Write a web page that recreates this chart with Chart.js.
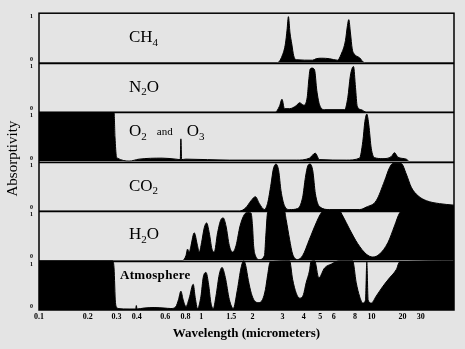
<!DOCTYPE html>
<html>
<head>
<meta charset="utf-8">
<script src="https://cdn.jsdelivr.net/npm/chart.js@4.4.1/dist/chart.umd.min.js"></script>
<style>
  html, body { margin: 0; padding: 0; background: #e4e4e4; }
  canvas { display: block; }
</style>
</head>
<body>
<canvas id="chart" width="465" height="349"></canvas>
<script>
const gases = ['CH₄', 'N₂O', 'O₂ and O₃', 'CO₂', 'H₂O', 'Atmosphere'];
const tickLabels = [0.1, 0.2, 0.3, 0.4, 0.6, 0.8, 1, 1.5, 2, 3, 4, 5, 6, 8, 10, 20, 30];

// wavelength in micrometers, absorptivity 0..1
const ch4Wave = [0.1, 2.8, 3.01, 3.12, 3.19, 3.25, 3.32, 3.4, 3.49, 3.61, 4.5, 4.73, 5.1, 5.66, 6.31, 6.63, 7.03, 7.22, 7.35, 7.52, 7.7, 7.94, 8.5, 9.09, 63];
const ch4Abs = [0, 0, 0.17, 0.38, 0.66, 0.93, 0.6, 0.38, 0.14, 0.06, 0.05, 0.08, 0.09, 0.08, 0.05, 0.17, 0.45, 0.75, 0.87, 0.6, 0.28, 0.17, 0.1, 0, 0];

const n2oWave = [0.1, 2.72, 2.88, 2.98, 3.08, 3.3, 3.61, 3.78, 4.0, 4.19, 4.28, 4.36, 4.48, 4.63, 4.77, 4.95, 5.3, 6.95, 7.26, 7.5, 7.7, 7.84, 8.05, 8.24, 8.7, 9.31, 63];
const n2oAbs = [0, 0, 0.12, 0.26, 0.07, 0.07, 0.13, 0.19, 0.14, 0.3, 0.65, 0.87, 0.89, 0.85, 0.44, 0.15, 0.05, 0.05, 0.3, 0.72, 0.89, 0.92, 0.5, 0.12, 0.05, 0, 0];

const o3Wave = [0.1, 0.29, 0.294, 0.3, 0.304, 0.359, 0.414, 0.574, 0.698, 0.742, 0.749, 0.757, 0.805, 1.46, 3.61, 4.32, 4.67, 4.95, 7.1, 8.5, 8.89, 9.14, 9.38, 9.64, 9.96, 10.7, 12.9, 15.5, 16.7, 18.0, 21.7, 23.4, 63];
const o3Abs = [1, 1, 0.5, 0.1, 0.07, 0.01, 0.05, 0.07, 0.05, 0.04, 0.46, 0.04, 0.05, 0.03, 0.03, 0.07, 0.17, 0.04, 0.03, 0.07, 0.41, 0.81, 0.96, 0.74, 0.27, 0.08, 0.06, 0.1, 0.18, 0.09, 0.05, 0, 0];

const co2Wave = [0.1, 1.674, 1.83, 1.96, 2.08, 2.195, 2.349, 2.45, 2.57, 2.65, 2.75, 2.85, 2.94, 3.08, 3.3, 3.68, 3.94, 4.09, 4.22, 4.36, 4.52, 4.68, 4.95, 5.67, 8.5, 9.31, 11.1, 13.37, 14.96, 16.1, 19.4, 21.7, 24.3, 28.2, 34, 45.7, 63];
const co2Abs = [0, 0, 0.07, 0.21, 0.29, 0.15, 0.03, 0.15, 0.55, 0.85, 0.95, 0.81, 0.41, 0.11, 0.03, 0.05, 0.28, 0.68, 0.91, 0.95, 0.81, 0.35, 0.09, 0.03, 0.03, 0.08, 0.21, 0.61, 0.88, 0.96, 0.96, 0.75, 0.48, 0.31, 0.21, 0.15, 0.12];

const h2oWave = [0.1, 0.767, 0.805, 0.823, 0.843, 0.864, 0.905, 0.948, 0.972, 1.004, 1.041, 1.075, 1.114, 1.156, 1.192, 1.247, 1.306, 1.347, 1.397, 1.462, 1.528, 1.6, 1.69, 1.791, 1.87, 1.96, 2.0, 2.03, 2.08, 2.195, 2.349, 2.4, 2.45, 2.51, 3.08, 3.15, 3.3, 3.44, 3.68, 3.94, 4.32, 4.73, 5.06, 5.3, 6.49, 6.78, 7.44, 8.3, 9.31, 10.3, 11.96, 14.4, 16.7, 18.7, 20.1, 63];
const h2oAbs = [0, 0, 0.1, 0.23, 0.17, 0.3, 0.56, 0.3, 0.17, 0.36, 0.66, 0.76, 0.56, 0.23, 0.17, 0.56, 0.83, 0.86, 0.7, 0.3, 0.17, 0.3, 0.7, 0.93, 0.97, 0.96, 0.7, 0.3, 0.1, 0.02, 0.1, 0.56, 0.96, 1, 1, 0.83, 0.43, 0.13, 0.02, 0.1, 0.43, 0.76, 0.96, 1, 1, 0.9, 0.63, 0.34, 0.13, 0.07, 0.13, 0.36, 0.7, 0.96, 1, 1];

const atmWave = [0.1, 0.284, 0.29, 0.296, 0.302, 0.304, 0.359, 0.394, 0.398, 0.402, 0.4445, 0.512, 0.59, 0.65, 0.698, 0.724, 0.749, 0.774, 0.805, 0.843, 0.892, 0.918, 0.948, 0.996, 1.027, 1.066, 1.104, 1.14, 1.177, 1.22, 1.276, 1.324, 1.384, 1.462, 1.542, 1.628, 1.712, 1.778, 1.824, 1.89, 1.97, 2.05, 2.17, 2.29, 2.38, 2.45, 2.54, 3.3, 3.44, 3.61, 3.78, 3.98, 4.13, 4.32, 4.41, 4.63, 4.9, 5.3, 5.82, 6.49, 7.74, 8.13, 8.5, 8.89, 9.22, 9.38, 9.55, 9.96, 11.1, 12.9, 14.96, 17.4, 18.7, 63];
const atmAbs = [1, 1, 0.85, 0.15, 0.05, 0.03, 0.02, 0.02, 0.09, 0.02, 0.04, 0.05, 0.04, 0.03, 0.07, 0.21, 0.38, 0.2, 0.07, 0.24, 0.52, 0.25, 0.03, 0.28, 0.66, 0.76, 0.52, 0.14, 0.03, 0.28, 0.72, 0.86, 0.66, 0.21, 0.03, 0.4, 0.85, 1, 0.9, 0.6, 0.33, 0.19, 0.15, 0.21, 0.41, 0.69, 0.97, 1, 0.62, 0.34, 0.24, 0.31, 0.55, 0.79, 0.98, 1, 0.65, 0.85, 0.93, 1, 1, 0.55, 0.28, 0.14, 0.2, 0.97, 0.2, 0.14, 0.28, 0.48, 0.65, 0.82, 0.97, 1];

const waves = [ch4Wave, n2oWave, o3Wave, co2Wave, h2oWave, atmWave];
const absorb = [ch4Abs, n2oAbs, o3Abs, co2Abs, h2oAbs, atmAbs];

const serif = '"Liberation Serif", "Times New Roman", serif';

// the old figure's log axis is uneven: 1-10 um decade drawn wider, beyond 10 um squeezed
function warp(w) {
  const l = Math.log10(w);
  if (l <= 0) return l;
  if (l <= 1) return l * 170 / 162;
  return 170 / 162 + (l - 1) * 103 / 162;
}

const datasets = gases.map((g, i) => ({
  label: g,
  data: waves[i].map((w, j) => ({ x: warp(w), y: absorb[i][j] })),
  yAxisID: 'y' + i,
  fill: 'origin',
  borderColor: '#000',
  backgroundColor: '#000',
  borderWidth: 1,
  pointRadius: 0,
  cubicInterpolationMode: 'monotone'
}));

const scales = {
  x: {
    type: 'linear',
    min: warp(0.1),
    max: warp(63),
    afterBuildTicks: s => { s.ticks = tickLabels.map(v => ({ value: warp(v) })); },
    afterFit: s => { s.height = 39; },
    grid: { display: false, drawTicks: false },
    border: { display: false },
    ticks: {
      autoSkip: false,
      maxRotation: 0,
      padding: 2,
      color: '#000',
      font: { family: serif, size: 8, weight: 'bold' },
      callback: (v, i) => String(tickLabels[i])
    },
    title: {
      display: true,
      text: 'Wavelength (micrometers)',
      color: '#000',
      font: { family: serif, size: 13, weight: 'bold' },
      padding: { top: 0, bottom: 8 }
    }
  }
};

// stacked left axes are laid out last-added on top, so add them bottom-up
for (let i = gases.length - 1; i >= 0; i--) {
  scales['y' + i] = {
    type: 'linear',
    position: 'left',
    stack: 'gases',
    stackWeight: 1,
    min: 0,
    max: 1,
    afterBuildTicks: s => { s.ticks = [{ value: 0 }, { value: 1 }]; },
    afterFit: s => { s.width = 39; },
    grid: { display: false, drawTicks: false },
    border: { display: false },
    ticks: {
      padding: 6,
      color: '#000',
      font: { family: serif, size: 6, weight: 'bold' },
      // push "0" just above the divider and "1" just below it
      callback: v => (v === 0 ? ['0', ''] : ['', '1'])
    }
  };
}

const SUBS = '₀₁₂₃₄₅₆₇₈₉';

function drawGasName(ctx, text, x, y, size, bold) {
  let cx = x;
  const parts = text.split(/( and |[₀-₉]+)/).filter(Boolean);
  for (const p of parts) {
    let s = size, dy = 0, str = p, before = 0, after = 0;
    if (/^[₀-₉]+$/.test(p)) {
      str = [...p].map(c => SUBS.indexOf(c)).join('');
      s = Math.round(size * 0.62);
      dy = size * 0.3;
    } else if (p === ' and ') {
      str = 'and';
      s = 11;
      before = 10;
      after = 14;
    }
    cx += before;
    ctx.font = (bold ? 'bold ' : '') + s + 'px ' + serif;
    ctx.fillText(str, cx, y + dy);
    cx += ctx.measureText(str).width + after;
  }
}

const decorations = {
  id: 'decorations',
  afterDatasetsDraw(chart) {
    const { ctx, chartArea: a } = chart;
    ctx.save();
    ctx.strokeStyle = '#000';
    ctx.lineWidth = 1.5;
    ctx.strokeRect(a.left, a.top, a.right - a.left, a.bottom - a.top);
    for (let i = 1; i < gases.length; i++) {
      const y = Math.round(chart.scales['y' + i].top) + 0.5;
      ctx.beginPath();
      ctx.moveTo(a.left, y);
      ctx.lineTo(a.right, y);
      ctx.stroke();
    }

    // gas names inside each panel
    const levels = [0.5, 0.5, 0.6, 0.5, 0.52, 0.7];
    ctx.fillStyle = '#000';
    ctx.textBaseline = 'middle';
    ctx.textAlign = 'left';
    gases.forEach((g, i) => {
      const y = chart.scales['y' + i].getPixelForValue(levels[i]);
      if (g === 'Atmosphere') {
        ctx.letterSpacing = '0.3px';
        drawGasName(ctx, g, a.left + 81, y, 13, true);
        ctx.letterSpacing = '0px';
      } else {
        drawGasName(ctx, g, a.left + 90, y, 17, false);
      }
    });

    // shared y title
    ctx.translate(13.5, (a.top + a.bottom) / 2 - 3);
    ctx.rotate(-Math.PI / 2);
    ctx.textAlign = 'center';
    ctx.font = '15px ' + serif;
    ctx.fillText('Absorptivity', 0, 0);
    ctx.restore();
  }
};

new Chart(document.getElementById('chart'), {
  type: 'line',
  data: { datasets },
  options: {
    responsive: false,
    animation: false,
    layout: { padding: { top: 12, right: 11, bottom: 0, left: 0 } },
    plugins: { legend: { display: false }, tooltip: { enabled: false } },
    scales
  },
  plugins: [decorations]
});
</script>
</body>
</html>
